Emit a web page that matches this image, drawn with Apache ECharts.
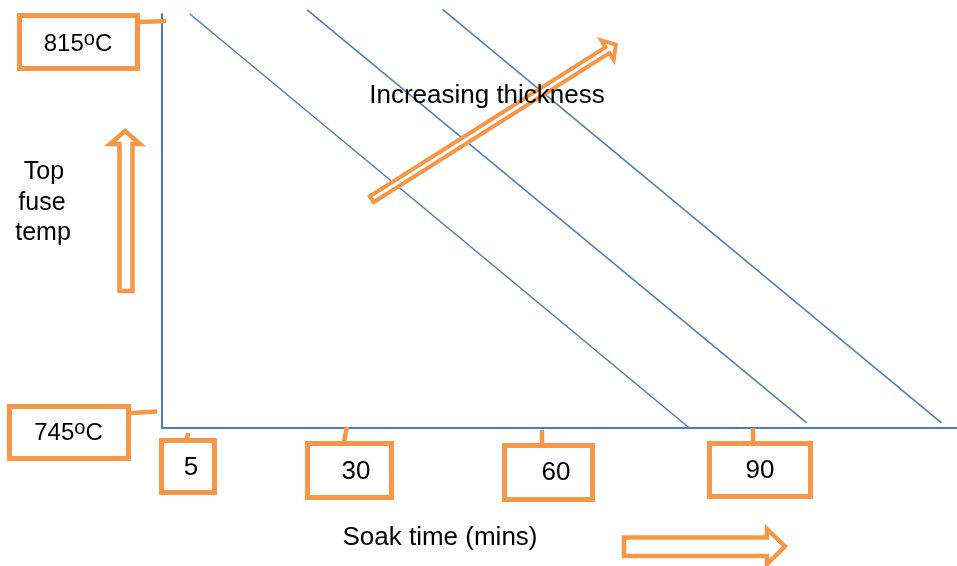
<!DOCTYPE html>
<html>
<head>
<meta charset="utf-8">
<script src="https://cdn.jsdelivr.net/npm/echarts@6/dist/echarts.min.js"></script>
<style>
  html, body { margin: 0; padding: 0; background: #ffffff; }
  #chart { width: 957px; height: 566px; }
</style>
</head>
<body>
<div id="chart"></div>
<script>
// ---- data (soak time in minutes, top fuse temperature in °C) ----
const soakTickValues = [5, 30, 60, 90];
const soakTickLabels = ['5', '30', '60', '90'];
const tempLabels = ['815', '745'];
const thinLine = [[5.4, 816.0], [82.4, 745.0]];
const mediumLine = [[23.5, 816.7], [100.6, 745.8]];
const thickLine = [[44.4, 816.8], [121.4, 745.8]];
const xTitle = 'Soak time (mins)';
const yTitle = ['Top', 'fuse', 'temp'];
const arrowTitle = 'Increasing thickness';

const BLUE = '#4A7EBB';
const ORANGE = '#F79646';
const FONT = '"Liberation Sans", Arial, sans-serif';
const FS = 26;

const chart = echarts.init(document.getElementById('chart'), null, { renderer: 'canvas' });

function textEl(str, x, y, size) {
  return {
    type: 'text', x: x, y: y, z: 120,
    style: { text: str, fill: '#000', font: (size || FS) + 'px ' + FONT, align: 'center', verticalAlign: 'middle', textAlign: 'center', textVerticalAlign: 'middle' }
  };
}
function boxEl(x, y, w, h) {
  return { type: 'rect', z: 110, shape: { x: x, y: y, width: w, height: h },
    style: { fill: '#fff', stroke: ORANGE, lineWidth: 5 } };
}
function connEl(x1, y1, x2, y2) {
  return { type: 'line', z: 109, shape: { x1: x1, y1: y1, x2: x2, y2: y2 },
    style: { stroke: ORANGE, lineWidth: 4.5 } };
}
function tempText(label, x, y) {
  return {
    type: 'text', x: x, y: y, z: 120,
    style: {
      text: '{n|' + label + '}{s|o}{n|C}',
      align: 'center', verticalAlign: 'middle', textAlign: 'center', textVerticalAlign: 'middle',
      rich: {
        n: { fontSize: 24, fontFamily: FONT, fill: '#000', color: '#000', lineHeight: 30 },
        s: { fontSize: 20, fontFamily: FONT, fill: '#000', color: '#000', lineHeight: 17, verticalAlign: 'top' }
      }
    }
  };
}

// tick-box geometry (annotation layout)
const tickBoxes = [
  { box: [161.5, 440.5, 53, 52], conn: [188, 433, 187, 439], text: [191, 468] },
  { box: [307.5, 443.5, 84, 54], conn: [347, 427, 344, 442], text: [356, 472] },
  { box: [504.5, 445.5, 88, 54], conn: [542, 430, 542, 444], text: [556, 473] },
  { box: [709.5, 443.5, 101, 53], conn: [753, 428, 753, 442], text: [760, 471] }
];

const graphics = [];
// temperature boxes
graphics.push(connEl(140, 22, 166, 21));
graphics.push(boxEl(19.5, 15.5, 118, 53));
graphics.push(tempText(tempLabels[0], 78, 44));
graphics.push(connEl(131, 413, 157, 411.5));
graphics.push(boxEl(9.5, 406.5, 119, 52));
graphics.push(tempText(tempLabels[1], 68.5, 433));
// soak tick boxes
soakTickLabels.forEach(function (lab, i) {
  const t = tickBoxes[i];
  graphics.push(connEl(t.conn[0], t.conn[1], t.conn[2], t.conn[3]));
  graphics.push(boxEl(t.box[0], t.box[1], t.box[2], t.box[3]));
  graphics.push(textEl(lab, t.text[0], t.text[1]));
});
// axis titles
graphics.push(textEl(yTitle[0], 44, 172, 25));
graphics.push(textEl(yTitle[1], 42, 203, 25));
graphics.push(textEl(yTitle[2], 43, 233, 25));
graphics.push(textEl(xTitle, 440, 538));
// up arrow (temperature)
graphics.push({ type: 'polygon', z: 105,
  shape: { points: [[125, 131], [140, 144], [132.5, 144], [132.5, 291], [119.5, 291], [119.5, 144], [110, 144]] },
  style: { fill: '#fff', stroke: ORANGE, lineWidth: 4.5, lineJoin: 'miter' } });
// right arrow (soak time)
graphics.push({ type: 'polygon', z: 105,
  shape: { points: [[624, 537.5], [767, 537.5], [767, 529], [785, 546.5], [767, 564], [767, 556], [624, 556]] },
  style: { fill: '#fff', stroke: ORANGE, lineWidth: 4.5, lineJoin: 'miter' } });
// diagonal arrow (increasing thickness)
graphics.push({ type: 'polygon', z: 105, x: 371.7, y: 199.2, rotation: 0.564,
  shape: { points: [[0, -3.5], [279, -3.5], [279, -11.5], [289, 0], [279, 11.5], [279, 3.5], [0, 3.5]] },
  style: { fill: '#fff', stroke: ORANGE, lineWidth: 4, lineJoin: 'miter' } });
graphics.push(textEl(arrowTitle, 487, 96));

function lineSeries(data) {
  return {
    type: 'line', data: data, symbol: 'none', clip: false, silent: true,
    lineStyle: { color: BLUE, width: 1.5 }, z: 2
  };
}

chart.setOption({
  animation: false,
  backgroundColor: '#ffffff',
  grid: { left: 162, right: 0, top: 14, bottom: 138.5, containLabel: false },
  xAxis: {
    type: 'value', min: 1.1, max: 123.8,
    axisLine: { show: true, onZero: false, lineStyle: { color: BLUE, width: 2 } },
    axisTick: { show: false }, axisLabel: { show: false }, splitLine: { show: false }
  },
  yAxis: {
    type: 'value', min: 745, max: 816,
    axisLine: { show: true, onZero: false, lineStyle: { color: BLUE, width: 2 } },
    axisTick: { show: false }, axisLabel: { show: false }, splitLine: { show: false }
  },
  series: [lineSeries(thinLine), lineSeries(mediumLine), lineSeries(thickLine)],
  graphic: { elements: graphics }
});
</script>
</body>
</html>
